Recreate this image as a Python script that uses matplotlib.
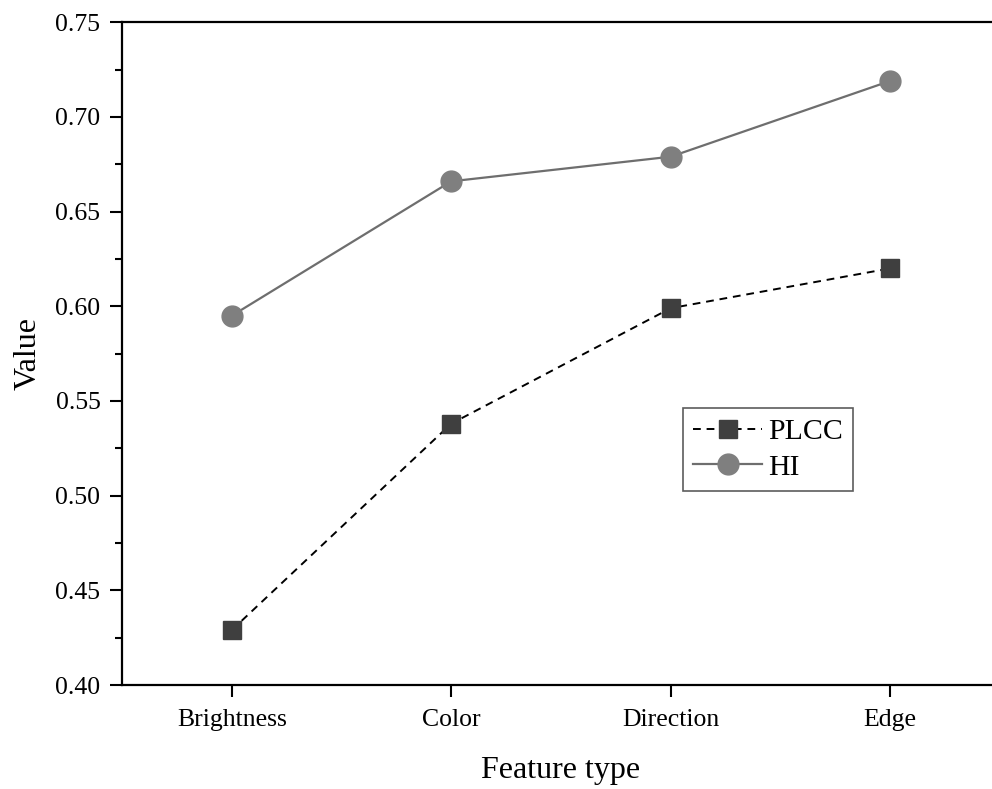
import matplotlib.pyplot as plt
from matplotlib.ticker import MultipleLocator

# data
features = ["Brightness", "Color", "Direction", "Edge"]
plcc = [0.429, 0.538, 0.599, 0.620]
hi = [0.595, 0.666, 0.679, 0.719]

plt.rcParams["font.family"] = ["Liberation Serif", "DejaVu Serif"]

fig = plt.figure(figsize=(9.92, 7.89), dpi=100)
ax = fig.add_axes([0.123, 0.1318, 1.008 - 0.123, 0.840])

x = list(range(len(features)))
ax.plot(x, plcc, color="black", linestyle=(0, (4, 3)), linewidth=1.4,
        marker="s", markersize=13, markerfacecolor="#3f3f3f",
        markeredgecolor="#3f3f3f", label="PLCC")
ax.plot(x, hi, color="#6e6e6e", linestyle="-", linewidth=1.6,
        marker="o", markersize=15, markerfacecolor="#7f7f7f",
        markeredgecolor="#7f7f7f", label="HI")

ax.set_xlim(-0.5, 3.5)
ax.set_ylim(0.40, 0.75)
ax.set_xticks(x)
ax.set_xticklabels(features)
ax.yaxis.set_major_locator(MultipleLocator(0.05))
ax.yaxis.set_minor_locator(MultipleLocator(0.025))
ax.yaxis.set_major_formatter(plt.FormatStrFormatter("%.2f"))

ax.tick_params(axis="both", which="major", direction="out", length=8.5, width=1.5, labelsize=18.5)
ax.tick_params(axis="y", which="minor", direction="out", length=5, width=1.5)
ax.tick_params(axis="x", pad=9)
ax.tick_params(axis="y", pad=7)
for s in ax.spines.values():
    s.set_linewidth(1.6)

ax.set_xlabel("Feature type", fontsize=23, labelpad=18)
ax.set_ylabel("Value", fontsize=23, labelpad=9)

leg = ax.legend(loc="upper left", bbox_to_anchor=(0.639, 0.418), borderaxespad=0,
                fontsize=21.5, frameon=True, fancybox=False, handlelength=2.3,
                handletextpad=0.2, borderpad=0.35, labelspacing=0.28)
leg.get_frame().set_edgecolor("#333333")
leg.get_frame().set_linewidth(1.2)

plt.savefig("out.png", dpi=100)
